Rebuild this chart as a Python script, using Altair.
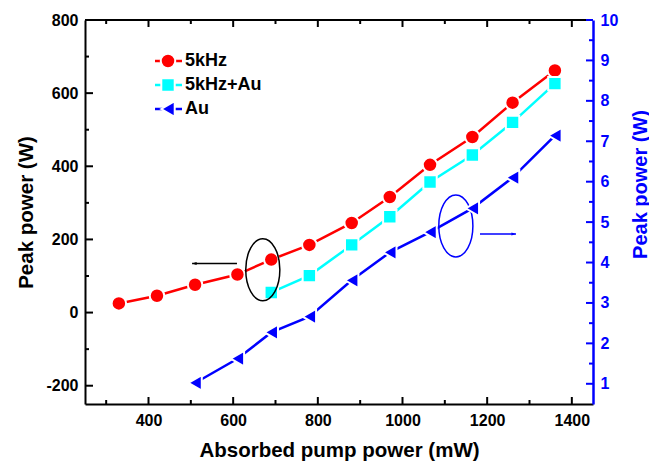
import altair as alt
import pandas as pd

# ---------------- data ----------------
x_5k = [330, 420, 510, 610, 690, 780, 880, 970, 1065, 1165, 1260, 1360]
p_5k = [25, 46, 76, 104, 145, 185, 245, 316, 404, 480, 574, 662]

x_5k_au = [690, 780, 880, 970, 1065, 1165, 1260, 1360]
p_5k_au = [55, 101, 185, 262, 357, 431, 520, 626]

x_au = [510, 610, 690, 780, 880, 970, 1065, 1165, 1260, 1360]
p_au = [1.02, 1.62, 2.27, 2.66, 3.56, 4.25, 4.75, 5.34, 6.1, 7.14]

x_ticks_major = [400, 600, 800, 1000, 1200, 1400]
x_ticks_minor = [300, 500, 700, 900, 1100, 1300]
yl_ticks_major = [-200, 0, 200, 400, 600, 800]
yl_ticks_minor = [-100, 100, 300, 500, 700]
yr_ticks_major = [1, 2, 3, 4, 5, 6, 7, 8, 9, 10]
yr_ticks_minor = [1.5, 2.5, 3.5, 4.5, 5.5, 6.5, 7.5, 8.5, 9.5]

labels = ["5kHz", "5kHz+Au", "Au"]

# annotation anchors (data units)
ell_black = {"cx": [670], "cy": [117]}
ell_blue = {"cx": [1126], "cy": [237]}
arrow_black = {"x1": [503], "x2": [609], "y": [134]}
arrow_blue = {"x1": [1183], "x2": [1268], "y": [215]}

# ---------------- styling ----------------
FONT = "Liberation Sans"
W, H = 508, 384
RED, CYAN, BLUE = "#ff0000", "#00ffff", "#0000ff"
LBL = "'' + datum.value"

xs = alt.Scale(domain=[250, 1450], nice=False, zero=False)
yls = alt.Scale(domain=[-250, 800], nice=False, zero=False)
yrs = alt.Scale(domain=[0.5, 10], nice=False, zero=False)

x_axis = alt.Axis(values=x_ticks_major, ticks=False, grid=False, domainColor="black",
                  domainWidth=2, labelFont=FONT, labelFontSize=16, labelFontWeight="bold",
                  labelColor="black", labelPadding=8, labelFlush=False, labelExpr=LBL,
                  title="Absorbed pump power (mW)", titleFont=FONT, titleFontSize=20.5,
                  titleFontWeight="bold", titleColor="black", titleX=254, titleY=52,
                  titleAlign="center", titleBaseline="alphabetic")
yl_axis = alt.Axis(values=yl_ticks_major, ticks=False, grid=False, domainColor="black",
                   domainWidth=2, labelFont=FONT, labelFontSize=16, labelFontWeight="bold",
                   labelColor="black", labelPadding=7, labelFlush=False, labelExpr=LBL,
                   title="Peak power (W)", titleFont=FONT, titleFontSize=20.5,
                   titleFontWeight="bold", titleColor="black", titleAngle=270,
                   titleX=-53, titleY=192, titleAlign="center", titleBaseline="alphabetic")
yr_axis = alt.Axis(orient="right", values=yr_ticks_major, ticks=False, grid=False,
                   domainColor=BLUE, domainWidth=2.5, labelFont=FONT, labelFontSize=16,
                   labelFontWeight="bold", labelColor=BLUE, labelPadding=7, labelFlush=False,
                   labelExpr=LBL,
                   title="Peak power (W)", titleFont=FONT, titleFontSize=20,
                   titleFontWeight="bold", titleColor=BLUE, titleAngle=270,
                   titleX=53, titleY=164, titleAlign="center", titleBaseline="alphabetic")


def X(f="x"):
    return alt.X(f"{f}:Q", scale=xs, axis=x_axis)


def YL(f="y"):
    return alt.Y(f"{f}:Q", scale=yls, axis=yl_axis)


def YR(f="y"):
    return alt.Y(f"{f}:Q", scale=yrs, axis=yr_axis)


df5 = pd.DataFrame({"x": x_5k, "y": p_5k})
df5au = pd.DataFrame({"x": x_5k_au, "y": p_5k_au})
dfau = pd.DataFrame({"x": x_au, "y": p_au})
dummy = pd.DataFrame({"a": [0]})

ELLIPSE = ("M0,-1 C0.3038,-1 0.55,-0.5523 0.55,0 C0.55,0.5523 0.3038,1 0,1 "
           "C-0.3038,1 -0.55,0.5523 -0.55,0 C-0.55,-0.5523 -0.3038,-1 0,-1 Z")
HEAD_LEFT = "M0,0 L1.8,-0.6 L1.8,0.6 Z"
HEAD_RIGHT = "M0,0 L-1.8,-0.6 L-1.8,0.6 Z"


def series(df, color, shape, size, yenc):
    line = alt.Chart(df).mark_line(color=color, strokeWidth=2.5).encode(x=X(), y=yenc())
    pts = alt.Chart(df).mark_point(shape=shape, filled=True, color=color, fill=color,
                                   size=size, stroke="white", strokeWidth=2,
                                   opacity=1).encode(x=X(), y=yenc())
    return [line, pts]


def legend_row(label, color, shape, size, ypix):
    r = alt.Chart(dummy).mark_rule(color=color, strokeWidth=2.5).encode(
        x=alt.value(70), x2=alt.value(97), y=alt.value(ypix))
    p = alt.Chart(dummy).mark_point(shape=shape, filled=True, color=color, fill=color,
                                    size=size, stroke="white", strokeWidth=2,
                                    opacity=1).encode(x=alt.value(83), y=alt.value(ypix))
    t = alt.Chart(dummy).mark_text(text=label, align="left", baseline="middle", font=FONT,
                                   fontSize=18, fontWeight="bold", color="black").encode(
        x=alt.value(100), y=alt.value(ypix))
    return [r, p, t]


def tick_rules(vals, enc_axis, color, length, orient):
    d = pd.DataFrame({"v": vals})
    c = alt.Chart(d).mark_rule(color=color, strokeWidth=2)
    if orient == "left":
        return c.encode(y=enc_axis("v"), x=alt.value(0), x2=alt.value(length))
    if orient == "right":
        return c.encode(y=enc_axis("v"), x=alt.value(W - length), x2=alt.value(W))
    if orient == "bottom":
        return c.encode(x=enc_axis("v"), y=alt.value(H), y2=alt.value(H - length))
    return c.encode(x=enc_axis("v"), y=alt.value(0), y2=alt.value(length))


SZ_C, SZ_S, SZ_T = 210, 180, 240

left_layers = []
left_layers += series(df5, RED, "circle", SZ_C, YL)
left_layers += series(df5au, CYAN, "square", SZ_S, YL)
left_layers += [
    tick_rules(yl_ticks_major, YL, "black", 8, "left"),
    tick_rules(yl_ticks_minor, YL, "black", 4, "left"),
    tick_rules(x_ticks_major, X, "black", 7, "bottom"),
    tick_rules(x_ticks_minor, X, "black", 4, "bottom"),
    tick_rules(x_ticks_major, X, "black", 7, "top"),
    tick_rules(x_ticks_minor, X, "black", 4, "top"),
    alt.Chart(dummy).mark_rule(color="black", strokeWidth=2).encode(
        x=alt.value(0), x2=alt.value(W), y=alt.value(0)),
]
# annotations
left_layers += [
    alt.Chart(pd.DataFrame(ell_black)).mark_point(shape=ELLIPSE, size=3844, filled=False,
                                                  color="black", strokeWidth=1.5, opacity=1)
    .encode(x=X("cx"), y=YL("cy")),
    alt.Chart(pd.DataFrame(ell_blue)).mark_point(shape=ELLIPSE, size=3844, filled=False,
                                                 color=BLUE, strokeWidth=1.5, opacity=1)
    .encode(x=X("cx"), y=YL("cy")),
    alt.Chart(pd.DataFrame(arrow_black)).mark_rule(color="black", strokeWidth=1.5)
    .encode(x=X("x1"), x2="x2:Q", y=YL("y")),
    alt.Chart(pd.DataFrame(arrow_black)).mark_point(shape=HEAD_LEFT, size=25, filled=True,
                                                    color="black", opacity=1)
    .encode(x=X("x1"), y=YL("y")),
    alt.Chart(pd.DataFrame(arrow_blue)).mark_rule(color=BLUE, strokeWidth=1.5)
    .encode(x=X("x1"), x2="x2:Q", y=YL("y")),
    alt.Chart(pd.DataFrame(arrow_blue)).mark_point(shape=HEAD_RIGHT, size=25, filled=True,
                                                   color=BLUE, opacity=1)
    .encode(x=X("x2"), y=YL("y")),
]
left_layers += legend_row(labels[0], RED, "circle", SZ_C, 41)
left_layers += legend_row(labels[1], CYAN, "square", SZ_S, 65)
left_layers += legend_row(labels[2], BLUE, "triangle-left", SZ_T, 89)

right_layers = []
right_layers += series(dfau, BLUE, "triangle-left", SZ_T, YR)
right_layers += [
    tick_rules(yr_ticks_major, YR, BLUE, 7, "right"),
    tick_rules(yr_ticks_minor, YR, BLUE, 4, "right"),
]

chart = alt.layer(alt.layer(*left_layers), alt.layer(*right_layers)).resolve_scale(
    y="independent"
).properties(
    width=W, height=H,
    padding={"left": 85, "top": 20, "right": 56, "bottom": 57},
    autosize=alt.AutoSizeParams(type="none"),
).configure_view(strokeWidth=0)

chart.save("out.html", embed_options={"renderer": "svg", "actions": False})
